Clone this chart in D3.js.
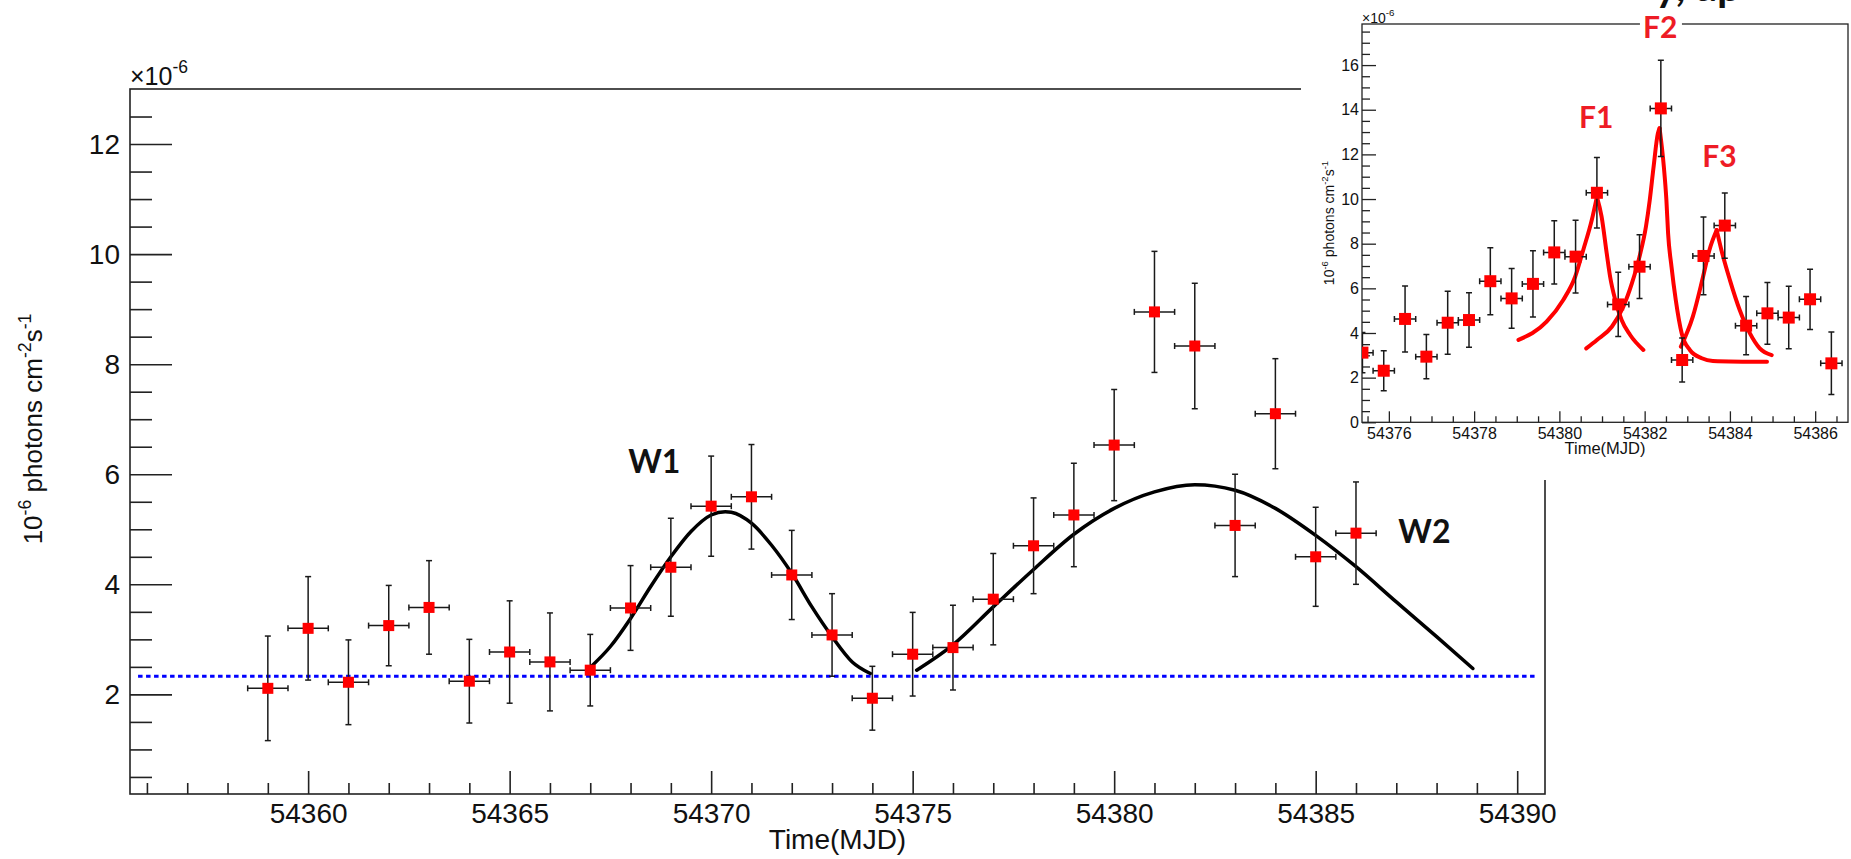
<!DOCTYPE html>
<html>
<head>
<meta charset="utf-8">
<script src="https://cdn.jsdelivr.net/npm/d3@7"></script>
<style>
  body { margin: 0; background: #fff; }
  svg { display: block; }
  text { font-family: "Liberation Sans", Arial, sans-serif; fill: #111; }
  .tag { font-family: Lato, "Open Sans", sans-serif; font-weight: 700; }
</style>
</head>
<body>
<svg id="chart" width="1851" height="859"></svg>
<script>
// ---- main light curve (1 day bins), flux in 1e-6 ph cm^-2 s^-1
const mainTime = [54359, 54360, 54361, 54362, 54363, 54364, 54365, 54366, 54367, 54368,
                  54369, 54370, 54371, 54372, 54373, 54374, 54375, 54376, 54377, 54378,
                  54379, 54380, 54381, 54382, 54383, 54384, 54385, 54386];
const mainFlux = [2.11, 3.20, 2.22, 3.25, 3.58, 2.24, 2.77, 2.59, 2.44, 3.57,
                  4.31, 5.42, 5.59, 4.17, 3.08, 1.93, 2.73, 2.85, 3.73, 4.70,
                  5.26, 6.53, 8.95, 8.33, 5.07, 7.10, 4.50, 4.93];
const mainErr  = [0.95, 0.94, 0.77, 0.73, 0.85, 0.76, 0.93, 0.89, 0.65, 0.77,
                  0.89, 0.91, 0.95, 0.81, 0.75, 0.58, 0.76, 0.77, 0.83, 0.87,
                  0.94, 1.01, 1.10, 1.14, 0.93, 1.00, 0.90, 0.93];
const mainBinHalf = 0.5;

// fitted wave components W1, W2
const w1Curve = [[54367.0, 2.49], [54367.5, 2.87], [54368.0, 3.38], [54368.5, 3.96], [54369.0, 4.50],
                 [54369.5, 4.96], [54370.0, 5.26], [54370.35, 5.32], [54370.5, 5.31], [54371.0, 5.11],
                 [54371.5, 4.71], [54372.0, 4.20], [54372.5, 3.59], [54373.0, 3.05], [54373.5, 2.59],
                 [54373.95, 2.38]];
const w2Curve = [[54375.1, 2.44], [54376, 2.90], [54377, 3.59], [54378, 4.27], [54379, 4.91],
                 [54380, 5.38], [54381, 5.68], [54382, 5.81], [54383, 5.71], [54384, 5.38],
                 [54385, 4.89], [54386, 4.32], [54387, 3.68], [54388, 3.05], [54388.9, 2.47]];
const baseFlux = 2.33;
const baseSpan = [54355.78, 54390.5];

// ---- inset light curve (12 h bins)
const flareTime = [54375.38, 54375.88, 54376.38, 54376.88, 54377.38, 54377.88, 54378.38, 54378.88,
                   54379.38, 54379.88, 54380.38, 54380.88, 54381.38, 54381.88, 54382.38, 54382.88,
                   54383.38, 54383.88, 54384.38, 54384.88, 54385.38, 54385.88, 54386.38];
const flareFlux = [3.12, 2.31, 4.63, 2.94, 4.46, 4.58, 6.32, 5.55, 6.20, 7.61, 7.42, 10.28,
                   5.28, 6.97, 14.06, 2.79, 7.45, 8.81, 4.33, 4.88, 4.69, 5.51, 2.64];
const flareErr  = [0.90, 0.90, 1.48, 0.99, 1.41, 1.22, 1.50, 1.34, 1.48, 1.42, 1.63, 1.58,
                   1.44, 1.43, 2.16, 0.99, 1.74, 1.46, 1.31, 1.38, 1.40, 1.35, 1.40];
const flareBinHalf = 0.25;

// flare fits F1..F3, rise and decay drawn apart so the peak stays sharp
const f1Rise  = [[54379.04, 3.69], [54379.70, 4.51], [54380.09, 5.48], [54380.37, 6.52], [54380.56, 7.72],
                 [54380.76, 9.06], [54380.88, 10.1]];
const f1Decay = [[54380.88, 10.1], [54380.99, 9.21], [54381.11, 7.57], [54381.19, 6.52], [54381.31, 5.48],
                 [54381.46, 4.58], [54381.66, 3.91], [54381.97, 3.24]];
const f2Rise  = [[54380.63, 3.31], [54380.88, 3.69], [54381.23, 4.28], [54381.50, 5.18], [54381.70, 6.22],
                 [54381.88, 7.42], [54382.03, 8.76], [54382.12, 9.96], [54382.21, 11.45], [54382.31, 12.94],
                 [54382.35, 13.17]];
const f2Decay = [[54382.35, 13.17], [54382.45, 11.45], [54382.51, 9.96], [54382.55, 8.46], [54382.63, 6.97],
                 [54382.73, 5.48], [54382.87, 3.98], [54383.06, 3.24], [54383.34, 2.87], [54383.6, 2.75],
                 [54384.87, 2.71]];
const f3Rise  = [[54382.85, 3.39], [54383.13, 4.73], [54383.37, 6.52], [54383.52, 7.72], [54383.69, 8.61]];
const f3Decay = [[54383.69, 8.61], [54383.80, 7.72], [54384.00, 6.37], [54384.23, 5.03], [54384.47, 3.98],
                 [54384.70, 3.31], [54384.98, 3.01]];

// text tags, anchored in data units of their panel
const waveTags  = [{name: 'W1', t: 54367.94, v: 6.02}, {name: 'W2', t: 54387.05, v: 4.75}];
const flareTags = [{name: 'F1', t: 54380.46, v: 13.18}, {name: 'F2', t: 54381.96, v: 17.21},
                   {name: 'F3', t: 54383.35, v: 11.43}];

const svg = d3.select('#chart');

class LightCurve {

  constructor(_config, _data) {
    this.config = _config;
    this.data = _data;
    this.initVis();
  }

  initVis() {
    let vis = this;
    const c = vis.config;

    vis.x = d3.scaleLinear().domain(c.xDomain).range([c.left, c.right]);
    vis.y = d3.scaleLinear().domain(c.yDomain).range([c.bottom, c.top]);

    vis.g = svg.append('g');

    if (c.background) {
      vis.g.append('rect')
          .attr('x', c.background[0]).attr('y', c.background[1])
          .attr('width', c.background[2]).attr('height', c.background[3])
          .attr('fill', '#fff');
    }

    vis.g.append('clipPath').attr('id', c.id + '-clip')
      .append('rect')
        .attr('x', c.left).attr('y', c.top)
        .attr('width', c.right - c.left).attr('height', c.bottom - c.top);

    vis.renderAxes();
    vis.renderVis();
  }

  renderAxes() {
    let vis = this;
    const c = vis.config;
    const fmt = d3.format('d');

    const styleAxis = (sel, size) => {
      sel.attr('font-size', null).attr('font-family', null);
      sel.select('.domain').remove();
      sel.selectAll('line').attr('stroke', '#222').attr('stroke-width', c.lineWidth);
      sel.selectAll('text').style('font-size', size + 'px').attr('fill', '#111');
    };

    // x axis: minor then major, ticks pointing into the frame
    vis.g.append('g')
        .attr('transform', `translate(0,${c.bottom})`)
        .call(d3.axisBottom(vis.x).tickValues(c.xMinor).tickSize(-c.xTick[1]).tickFormat(''))
        .call(s => styleAxis(s, c.tickFont));
    vis.g.append('g')
        .attr('transform', `translate(0,${c.bottom})`)
        .call(d3.axisBottom(vis.x).tickValues(c.xMajor).tickSize(-c.xTick[0]).tickPadding(c.xPad).tickFormat(fmt))
        .call(s => styleAxis(s, c.tickFont));

    vis.g.append('g')
        .attr('transform', `translate(${c.left},0)`)
        .call(d3.axisLeft(vis.y).tickValues(c.yMinor).tickSize(-c.yTick[1]).tickFormat(''))
        .call(s => styleAxis(s, c.tickFont));
    vis.g.append('g')
        .attr('transform', `translate(${c.left},0)`)
        .call(d3.axisLeft(vis.y).tickValues(c.yMajor).tickSize(-c.yTick[0]).tickPadding(c.yPad).tickFormat(fmt))
        .call(s => styleAxis(s, c.tickFont));

    // frame
    vis.g.append('rect')
        .attr('x', c.left).attr('y', c.top)
        .attr('width', c.right - c.left).attr('height', c.bottom - c.top)
        .attr('fill', 'none').attr('stroke', '#222').attr('stroke-width', c.lineWidth);

    // x title
    vis.g.append('text')
        .attr('x', (c.left + c.right) / 2).attr('y', c.xTitleY)
        .attr('text-anchor', 'middle')
        .style('font-size', c.titleFont + 'px')
        .text('Time(MJD)');

    // y title with superscripts
    const yt = vis.g.append('text')
        .attr('transform', `translate(${c.yTitleX},${c.yTitleY}) rotate(-90)`)
        .attr('text-anchor', 'middle')
        .style('font-size', c.yTitleFont + 'px');
    const sup = c.yTitleFont * 0.68, lift = c.yTitleFont * 0.42;
    yt.append('tspan').text('10');
    yt.append('tspan').attr('dy', -lift).style('font-size', sup + 'px').text('-6');
    yt.append('tspan').attr('dy', lift).text(' photons cm');
    yt.append('tspan').attr('dy', -lift).style('font-size', sup + 'px').text('-2');
    yt.append('tspan').attr('dy', lift).text('s');
    yt.append('tspan').attr('dy', -lift).style('font-size', sup + 'px').text('-1');

    // x10^-6 multiplier above the y axis
    const mult = vis.g.append('text')
        .attr('x', c.left).attr('y', c.multY)
        .style('font-size', c.multFont + 'px');
    mult.append('tspan').text('\u00d710');
    mult.append('tspan').attr('dy', -c.multFont * 0.5).style('font-size', (c.multFont * 0.7) + 'px').text('-6');
  }

  renderVis() {
    let vis = this;
    const c = vis.config;
    const d = vis.data;

    const plot = vis.g.append('g').attr('clip-path', `url(#${c.id}-clip)`);

    if (d.base) {
      plot.append('line')
          .attr('x1', vis.x(d.base.span[0])).attr('x2', vis.x(d.base.span[1]))
          .attr('y1', vis.y(d.base.flux)).attr('y2', vis.y(d.base.flux))
          .attr('stroke', '#0000ff').attr('stroke-width', 3)
          .attr('stroke-dasharray', '4.5,3.5');
    }

    const line = d3.line()
        .x(p => vis.x(p[0]))
        .y(p => vis.y(p[1]))
        .curve(d3.curveMonotoneX);

    plot.selectAll('path.fit')
        .data(d.curves)
      .join('path')
        .attr('class', 'fit')
        .attr('d', line)
        .attr('fill', 'none')
        .attr('stroke', c.fitColor)
        .attr('stroke-width', c.fitWidth)
        .attr('stroke-linecap', 'round')
        .attr('stroke-linejoin', 'round');

    const pts = d.time.map((t, i) => ({t: t, v: d.flux[i], e: d.err[i]}));
    const cap = c.cap;
    const bar = plot.append('g')
        .attr('stroke', '#1a1a1a').attr('stroke-width', c.barWidth);

    const eb = bar.selectAll('g.eb').data(pts).join('g').attr('class', 'eb');
    eb.append('line')
        .attr('x1', p => vis.x(p.t)).attr('x2', p => vis.x(p.t))
        .attr('y1', p => vis.y(p.v - p.e)).attr('y2', p => vis.y(p.v + p.e));
    eb.append('line')
        .attr('x1', p => vis.x(p.t - d.binHalf)).attr('x2', p => vis.x(p.t + d.binHalf))
        .attr('y1', p => vis.y(p.v)).attr('y2', p => vis.y(p.v));
    [-1, 1].forEach(s => {
      eb.append('line')
          .attr('x1', p => vis.x(p.t) - cap).attr('x2', p => vis.x(p.t) + cap)
          .attr('y1', p => vis.y(p.v + s * p.e)).attr('y2', p => vis.y(p.v + s * p.e));
      eb.append('line')
          .attr('x1', p => vis.x(p.t + s * d.binHalf)).attr('x2', p => vis.x(p.t + s * d.binHalf))
          .attr('y1', p => vis.y(p.v) - cap).attr('y2', p => vis.y(p.v) + cap);
    });

    plot.selectAll('rect.pt')
        .data(pts)
      .join('rect')
        .attr('class', 'pt')
        .attr('x', p => vis.x(p.t) - c.marker / 2)
        .attr('y', p => vis.y(p.v) - c.marker / 2)
        .attr('width', c.marker).attr('height', c.marker)
        .attr('fill', '#ff0000');

    // tags (not clipped)
    const tags = vis.g.selectAll('g.tag')
        .data(d.tags)
      .join('g');
    if (c.tagBackground) {
      tags.append('rect')
          .attr('x', t => vis.x(t.t) - 3)
          .attr('y', t => vis.y(t.v) - c.tagFont * 0.8)
          .attr('width', c.tagFont * 1.2 + 6)
          .attr('height', c.tagFont * 0.9)
          .attr('fill', '#fff');
    }
    tags.append('text')
        .attr('class', 'tag')
        .attr('x', t => vis.x(t.t)).attr('y', t => vis.y(t.v))
        .style('font-size', c.tagFont + 'px')
        .style('fill', c.tagColor)
        .text(t => t.name);
  }
}

const evenOnly = (lo, hi, step, every) => d3.range(lo, hi + 1e-9, step)
    .filter(v => Math.abs(v / every - Math.round(v / every)) > 1e-6);

new LightCurve({
  id: 'main',
  left: 130, right: 1545, top: 89, bottom: 794,
  xDomain: [54355.58, 54390.69], yDomain: [0.19, 13.0],
  xMajor: [54360, 54365, 54370, 54375, 54380, 54385, 54390],
  xMinor: evenOnly(54356, 54390, 1, 5),
  yMajor: [2, 4, 6, 8, 10, 12],
  yMinor: evenOnly(0.5, 12.5, 0.5, 2),
  xTick: [23, 11], yTick: [42, 22],
  xPad: 9, yPad: 10,
  tickFont: 28, titleFont: 28, yTitleFont: 26,
  xTitleY: 849, yTitleX: 42, yTitleY: 429,
  multY: 85, multFont: 25,
  lineWidth: 1.6, barWidth: 1.5, cap: 3, marker: 11,
  fitColor: '#000', fitWidth: 3.5,
  tagFont: 32, tagColor: '#111'
}, {
  time: mainTime, flux: mainFlux, err: mainErr, binHalf: mainBinHalf,
  curves: [w1Curve, w2Curve],
  base: {flux: baseFlux, span: baseSpan},
  tags: waveTags
});

new LightCurve({
  id: 'inset',
  background: [1301, 0, 550, 480],
  left: 1362, right: 1848, top: 24, bottom: 422.3,
  xDomain: [54375.37, 54386.77], yDomain: [0, 17.84],
  xMajor: [54376, 54378, 54380, 54382, 54384, 54386],
  xMinor: evenOnly(54375.5, 54386.5, 0.5, 2),
  yMajor: [0, 2, 4, 6, 8, 10, 12, 14, 16],
  yMinor: evenOnly(0.5, 17.5, 0.5, 2),
  xTick: [11, 6], yTick: [14, 8],
  xPad: 5, yPad: 3,
  tickFont: 16, titleFont: 16.5, yTitleFont: 14,
  xTitleY: 454, yTitleX: 1334, yTitleY: 223,
  multY: 23, multFont: 14,
  lineWidth: 1.3, barWidth: 1.5, cap: 3, marker: 12,
  fitColor: '#ff0000', fitWidth: 4,
  tagFont: 30, tagColor: '#ee1c25', tagBackground: true
}, {
  time: flareTime, flux: flareFlux, err: flareErr, binHalf: flareBinHalf,
  curves: [f1Rise, f1Decay, f2Rise, f2Decay, f3Rise, f3Decay],
  base: null,
  tags: flareTags
});

// caption fragment cut by the top edge: only descenders remain visible
svg.append('text')
    .attr('class', 'tag')
    .attr('x', 1655).attr('y', 1)
    .style('font-size', '42px')
    .text('y, ap');
</script>
</body>
</html>
